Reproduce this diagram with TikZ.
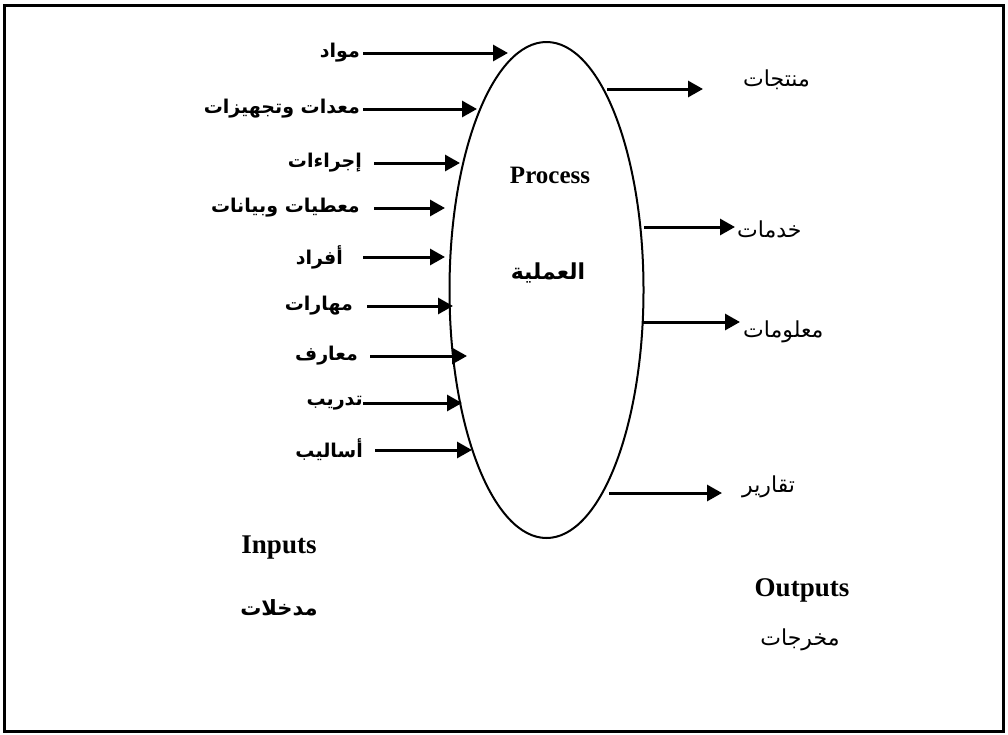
\documentclass[tikz,border=0pt]{standalone}
\usepackage{fontspec}
\setmainfont{Liberation Serif}
\newfontfamily\arabicfont[Script=Arabic]{DejaVu Sans}
\TeXXeTstate=1
\usetikzlibrary{shapes.geometric,arrows.meta}
\tikzset{
  flowarrow/.style={line width=3pt,-{Triangle[length=15pt,width=16pt]}},
  inlabel/.style={anchor=east,inner sep=0pt,font=\arabicfont\bfseries\fontsize{19}{23}\selectfont},
  outlabel/.style={anchor=west,inner sep=0pt,font=\arabicfont\fontsize{22}{26}\selectfont},
  entitle/.style={inner sep=0pt,font=\bfseries\fontsize{27}{30}\selectfont},
}
\begin{document}
\begin{tikzpicture}[x=1pt,y=-1pt]
\useasboundingbox (0,0) rectangle (1008,734);
% outer frame
\draw[line width=3pt] (4,5) rectangle (1003,731);
% the process
\node[ellipse,draw,line width=2pt,minimum width=194pt,minimum height=496pt,inner sep=0pt] (proc) at (546.5,290) {};
\node[entitle,font=\bfseries\fontsize{25}{28}\selectfont] (ptitle) at (550,175) {Process};
\node[inner sep=0pt,font=\arabicfont\bfseries\fontsize{22}{26}\selectfont] (ptitlear) at (548,273) {\beginR العملية\endR};

% inputs: label, arrow start and arrow tip
\foreach \n/\txt/\lx/\y/\sx/\ex in {
  1/مواد/360/53/363/508,
  2/معدات وتجهيزات/360/109/363/477,
  3/إجراءات/362/163/374/460,
  4/معطيات وبيانات/360/208/374/445,
  5/أفراد/343/257/363/445,
  6/مهارات/353/306/367/453,
  7/معارف/358/356/370/467,
  8/تدريب/363/403/363/462,
  9/أساليب/363/450/375/472}{
  \node[inlabel] (in\n) at (\lx,\y) {\beginR\txt\endR};
  \coordinate (ins\n) at (\sx,\y);
  \coordinate (ine\n) at (\ex,\y);
  \draw[flowarrow] (ins\n) -- (ine\n);
}

% outputs: arrow start, arrow tip and label
\foreach \n/\txt/\y/\ty/\sx/\ex/\lx in {
  1/منتجات/89/80/607/703/743,
  2/خدمات/227/229/644/735/737,
  3/معلومات/322/332/643/740/743,
  4/تقارير/493/487/609/722/742}{
  \node[outlabel] (out\n) at (\lx,\ty) {\beginR\txt\endR};
  \coordinate (outs\n) at (\sx,\y);
  \coordinate (oute\n) at (\ex,\y);
  \draw[flowarrow] (outs\n) -- (oute\n);
}

% group captions
\node[entitle] (intitle) at (279,548) {Inputs};
\node[inner sep=0pt,font=\arabicfont\bfseries\fontsize{21}{25}\selectfont] (intitlear) at (279,608) {\beginR مدخلات\endR};
\node[entitle] (outtitle) at (802,590) {Outputs};
\node[inner sep=0pt,font=\arabicfont\fontsize{22}{26}\selectfont] (outtitlear) at (800,640) {\beginR مخرجات\endR};
\end{tikzpicture}
\end{document}
